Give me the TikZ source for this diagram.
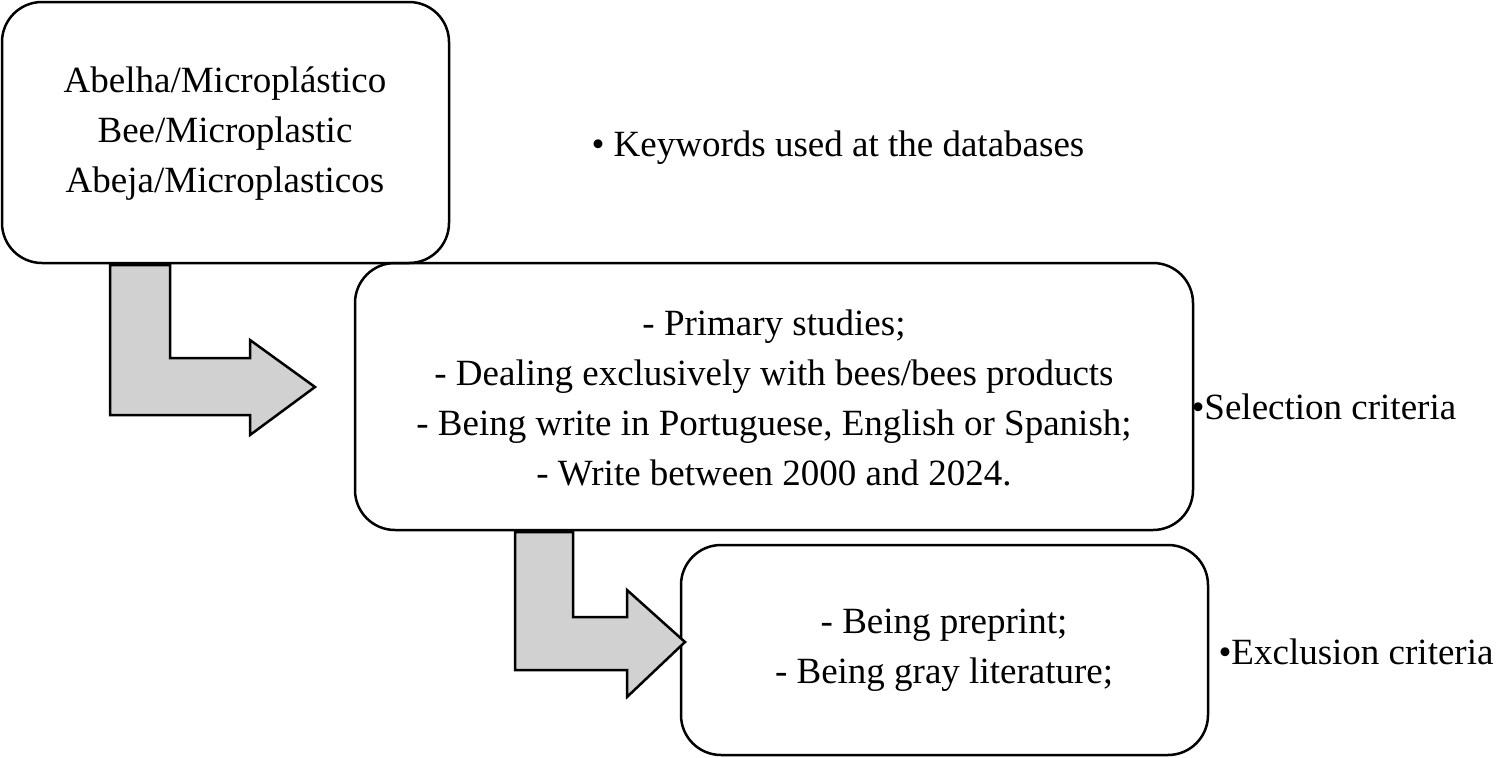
\documentclass[tikz,border=0pt]{standalone}
\usepackage{fontspec}
\setmainfont{Liberation Serif}
\begin{document}
\begin{tikzpicture}[x=1pt,y=-1pt,
  box/.style={draw,line width=2.5pt,rounded corners=40pt},
  txt/.style={align=center,font=\fontsize{37}{50}\selectfont},
  lab/.style={anchor=west,font=\fontsize{37}{40}\selectfont},
  barrow/.style={draw,line width=2.5pt,fill=black!18}]
\useasboundingbox (0,0) rectangle (1500,758);
\draw[box] (2,2) rectangle (449,263);
\draw[box] (355,263) rectangle (1193,530);
\draw[box] (681,545) rectangle (1208,755);
\node[txt] (t1) at (225,134) {Abelha/Microplástico\\Bee/Microplastic\\Abeja/Microplasticos};
\node[txt] (t2) at (774,398) {- Primary studies;\\- Dealing exclusively with bees/bees products\\- Being write in Portuguese, English or Spanish;\\- Write between 2000 and 2024.};
\node[txt] (t3) at (944,650) {- Being preprint;\\- Being gray literature;};
\node[lab] (l1) at (588,148) {• Keywords used at the databases};
\node[lab] (l2) at (1188,407) {•Selection criteria};
\node[lab] (l3) at (1215,652) {•Exclusion criteria};
\draw[barrow] (110,265) -- (170,265) -- (170,358) -- (250,358) -- (250,340) -- (315,387) -- (250,435) -- (250,415) -- (110,415) -- cycle;
\draw[barrow] (515,532) -- (573,532) -- (573,617) -- (627,617) -- (627,590) -- (685,642) -- (627,697) -- (627,670) -- (515,670) -- cycle;
\end{tikzpicture}
\end{document}
